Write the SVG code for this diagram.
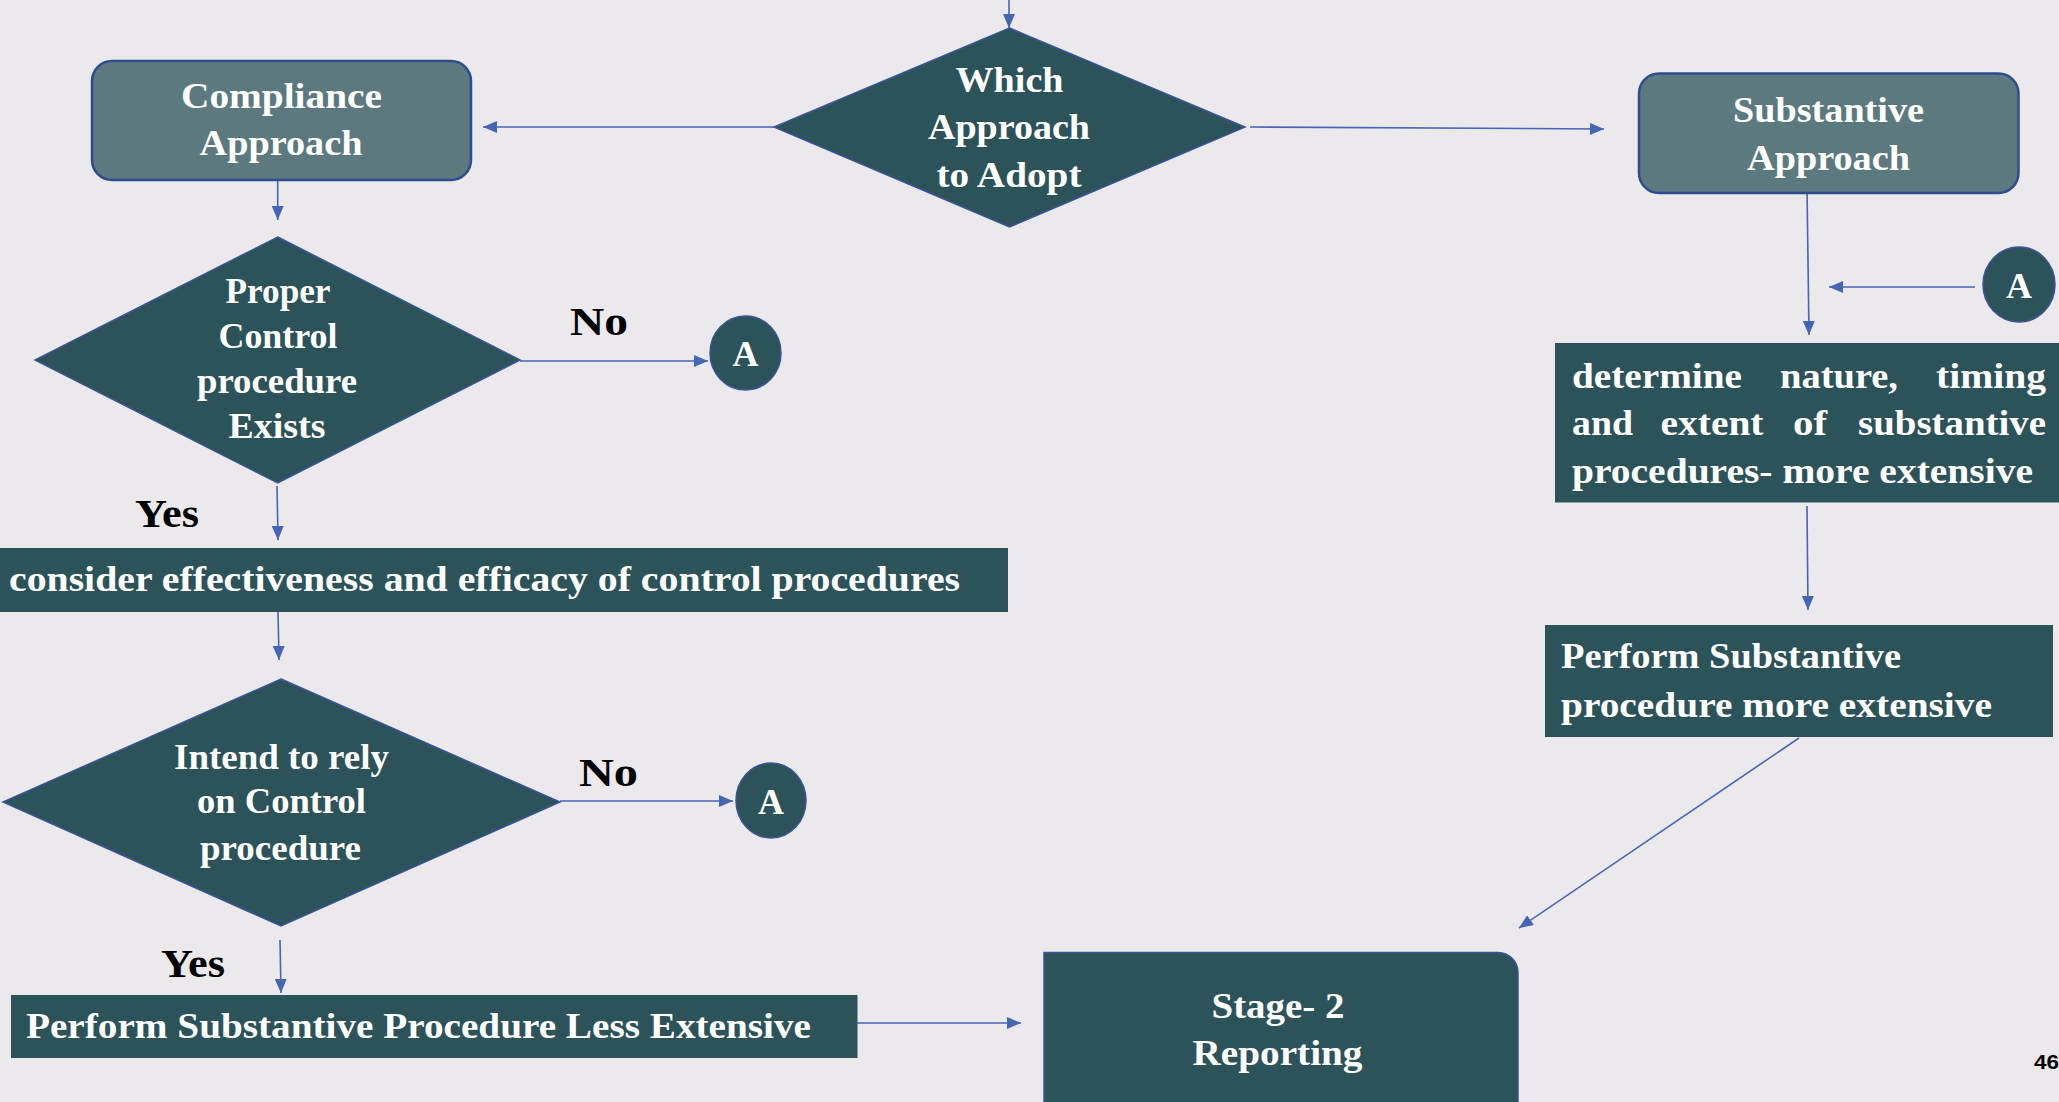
<svg xmlns="http://www.w3.org/2000/svg" width="2059" height="1102" viewBox="0 0 2059 1102">
<defs>
<style>
.bg{fill:#EBE9EC}
.dk{fill:#2C525A}
.dks{fill:#2C525A;stroke:#3A5596;stroke-width:1.5}
.lt{fill:#5B797E;stroke:#2F4C8F;stroke-width:2.5}
.t{font-family:"Liberation Serif","Times New Roman",serif;font-weight:bold;font-size:36px;fill:#FFFFFF}
.c{text-anchor:middle}
.lbl{font-family:"Liberation Serif","Times New Roman",serif;font-weight:bold;font-size:41px;fill:#000000}
.conn line{stroke:#4466B3;stroke-width:1.6;fill:none;marker-end:url(#ah)}
</style>
<marker id="ah" markerUnits="userSpaceOnUse" markerWidth="14" markerHeight="12" refX="14" refY="6" orient="auto">
<path d="M0,0 L14,6 L0,12 z" fill="#4466B3"/>
</marker>
</defs>
<rect class="bg" x="0" y="0" width="2059" height="1102"/>

<g class="conn" id="connectors">
<line x1="1009" y1="0" x2="1009" y2="28"/>
<line x1="774" y1="127" x2="483" y2="127"/>
<line x1="1250" y1="127" x2="1604" y2="129"/>
<line x1="277.7" y1="180" x2="277.7" y2="220"/>
<line x1="520" y1="361" x2="708" y2="361"/>
<line x1="277" y1="486" x2="278" y2="540"/>
<line x1="278" y1="612" x2="279" y2="660"/>
<line x1="560" y1="801" x2="733" y2="801"/>
<line x1="280" y1="940" x2="281" y2="993"/>
<line x1="834" y1="1023" x2="1021" y2="1023"/>
<line x1="1807" y1="187" x2="1809" y2="335"/>
<line x1="1975" y1="287" x2="1829" y2="287"/>
<line x1="1807" y1="506" x2="1808" y2="610"/>
<line x1="1799" y1="738" x2="1519" y2="928"/>
</g>

<g id="which-approach">
<polygon class="dks" points="1009.5,28 1245,127 1009.5,227 774,127"/>
<text class="t c" x="1009.5" y="92" textLength="108" lengthAdjust="spacingAndGlyphs">Which</text>
<text class="t c" x="1009" y="139" textLength="162" lengthAdjust="spacingAndGlyphs">Approach</text>
<text class="t c" x="1009" y="187" textLength="145" lengthAdjust="spacingAndGlyphs">to Adopt</text>
</g>

<g id="compliance-approach">
<rect class="lt" x="92" y="61" width="379" height="119" rx="20" ry="20"/>
<text class="t c" x="281.5" y="108" textLength="201" lengthAdjust="spacingAndGlyphs">Compliance</text>
<text class="t c" x="281" y="155" textLength="163" lengthAdjust="spacingAndGlyphs">Approach</text>
</g>

<g id="substantive-approach">
<rect class="lt" x="1639" y="73.5" width="379.5" height="119.5" rx="20" ry="20"/>
<text class="t c" x="1828.5" y="122" textLength="191" lengthAdjust="spacingAndGlyphs">Substantive</text>
<text class="t c" x="1828.5" y="170" textLength="163" lengthAdjust="spacingAndGlyphs">Approach</text>
</g>

<g id="proper-control">
<polygon class="dks" points="277.7,237 520,360 277.7,483 35,360"/>
<text class="t c" x="278" y="303" textLength="105" lengthAdjust="spacingAndGlyphs">Proper</text>
<text class="t c" x="278" y="348" textLength="119" lengthAdjust="spacingAndGlyphs">Control</text>
<text class="t c" x="277" y="393" textLength="160" lengthAdjust="spacingAndGlyphs">procedure</text>
<text class="t c" x="277" y="438" textLength="97" lengthAdjust="spacingAndGlyphs">Exists</text>
</g>

<g id="label-no-1"><text class="lbl" x="570" y="335" textLength="58" lengthAdjust="spacingAndGlyphs">No</text></g>

<g id="connector-a-1">
<ellipse class="dks" cx="745.5" cy="353" rx="35.5" ry="37"/>
<text class="t c" x="745.5" y="366" font-size="38">A</text>
</g>

<g id="label-yes-1"><text class="lbl" x="135" y="527" textLength="64" lengthAdjust="spacingAndGlyphs">Yes</text></g>

<g id="consider-effectiveness">
<rect class="dk" x="0" y="548" width="1008" height="64"/>
<text class="t" x="9" y="591" textLength="951" lengthAdjust="spacingAndGlyphs">consider effectiveness and efficacy of  control procedures</text>
</g>

<g id="intend-to-rely">
<polygon class="dks" points="281,679 560,802 281,926 3,802"/>
<text class="t c" x="281.5" y="769" textLength="215" lengthAdjust="spacingAndGlyphs">Intend to rely</text>
<text class="t c" x="281.5" y="813" textLength="169" lengthAdjust="spacingAndGlyphs">on Control</text>
<text class="t c" x="280.5" y="860" textLength="161" lengthAdjust="spacingAndGlyphs">procedure</text>
</g>

<g id="label-no-2"><text class="lbl" x="579" y="786" textLength="59" lengthAdjust="spacingAndGlyphs">No</text></g>

<g id="connector-a-2">
<ellipse class="dks" cx="771" cy="800.5" rx="35" ry="37.5"/>
<text class="t c" x="771" y="813.5" font-size="38">A</text>
</g>

<g id="label-yes-2"><text class="lbl" x="161" y="977" textLength="64" lengthAdjust="spacingAndGlyphs">Yes</text></g>

<g id="perform-less-extensive">
<rect class="dk" x="11" y="995" width="846.5" height="63"/>
<text class="t" x="26" y="1038" textLength="785" lengthAdjust="spacingAndGlyphs">Perform Substantive Procedure Less Extensive</text>
</g>

<g id="stage-2-reporting">
<path class="dks" d="M1044,952.5 L1498,952.5 A20,20 0 0 1 1518,972.5 L1518,1110 L1044,1110 Z"/>
<text class="t c" x="1278" y="1018" textLength="133" lengthAdjust="spacingAndGlyphs">Stage- 2</text>
<text class="t c" x="1277.5" y="1065" textLength="170" lengthAdjust="spacingAndGlyphs">Reporting</text>
</g>

<g id="connector-a-3">
<ellipse class="dks" cx="2019" cy="284.5" rx="36" ry="37.5"/>
<text class="t c" x="2019" y="298" font-size="38">A</text>
</g>

<g id="determine-nature">
<rect class="dk" x="1555" y="343" width="510" height="159.5"/>
<text class="t" y="388">
<tspan x="1572" textLength="170" lengthAdjust="spacingAndGlyphs">determine</tspan>
<tspan x="1780" textLength="118" lengthAdjust="spacingAndGlyphs">nature,</tspan>
<tspan x="1936" textLength="110" lengthAdjust="spacingAndGlyphs">timing</tspan>
</text>
<text class="t" y="435">
<tspan x="1572" textLength="61" lengthAdjust="spacingAndGlyphs">and</tspan>
<tspan x="1660.5" textLength="103" lengthAdjust="spacingAndGlyphs">extent</tspan>
<tspan x="1793" textLength="34" lengthAdjust="spacingAndGlyphs">of</tspan>
<tspan x="1858" textLength="188" lengthAdjust="spacingAndGlyphs">substantive</tspan>
</text>
<text class="t" x="1572" y="483" textLength="461" lengthAdjust="spacingAndGlyphs">procedures- more extensive</text>
</g>

<g id="perform-more-extensive">
<rect class="dk" x="1545" y="625" width="508" height="112"/>
<text class="t" x="1561" y="668" textLength="340" lengthAdjust="spacingAndGlyphs">Perform Substantive</text>
<text class="t" x="1561" y="717" textLength="431" lengthAdjust="spacingAndGlyphs">procedure more extensive</text>
</g>

<g id="page-number">
<text x="2034" y="1069" font-family="'Liberation Sans',Arial,sans-serif" font-weight="bold" font-size="20" fill="#000000" textLength="25" lengthAdjust="spacingAndGlyphs">46</text>
</g>
</svg>
